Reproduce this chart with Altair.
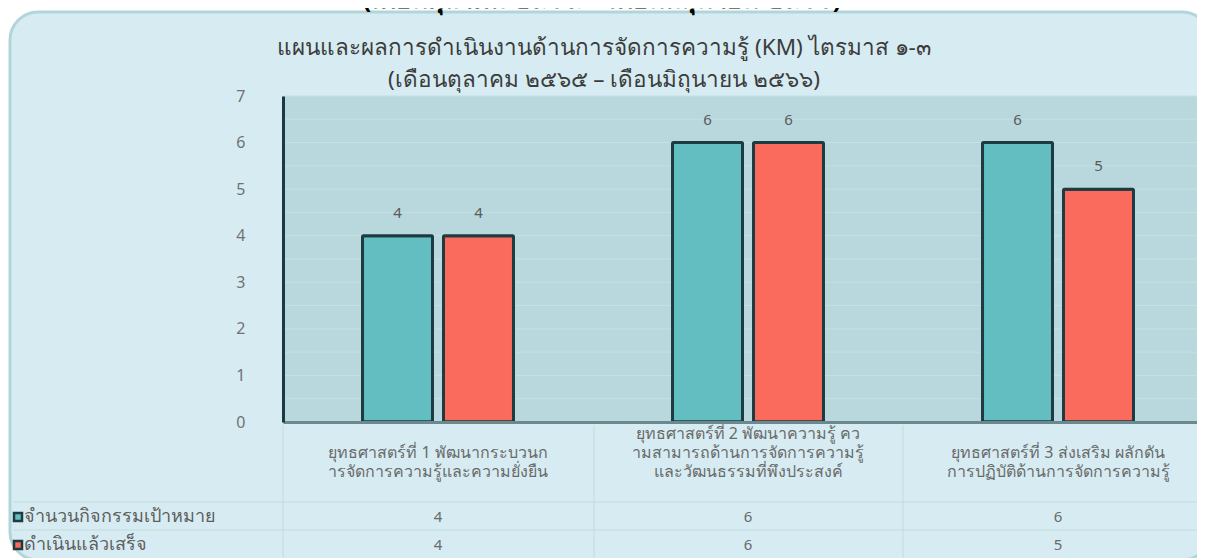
import altair as alt
import pandas as pd

# ---- data ----
categories = ["ยุทธศาสตร์ที่ 1", "ยุทธศาสตร์ที่ 2", "ยุทธศาสตร์ที่ 3"]
category_lines = [
    ["ยุทธศาสตร์ที่ 1 พัฒนากระบวนก", "ารจัดการความรู้และความยั่งยืน"],
    ["ยุทธศาสตร์ที่ 2 พัฒนาความรู้ คว", "ามสามารถด้านการจัดการความรู้", "และวัฒนธรรมที่พึงประสงค์"],
    ["ยุทธศาสตร์ที่ 3 ส่งเสริม ผลักดัน", "การปฏิบัติด้านการจัดการความรู้"],
]
series = ["จำนวนกิจกรรมเป้าหมาย", "ดำเนินแล้วเสร็จ"]
target_values = [4, 6, 6]
done_values = [4, 6, 5]
colors = ["#62bec1", "#fa6a5d"]
grid_values = [i * 0.5 for i in range(15)]
title_lines = [
    "แผนและผลการดำเนินงานด้านการจัดการความรู้ (KM) ไตรมาส ๑-๓",
    "(เดือนตุลาคม ๒๕๖๕ – เดือนมิถุนายน ๒๕๖๖)",
]
header_text = "(เดือนตุลาคม ๒๕๖๕ – เดือนมิถุนายน ๒๕๖๖)"

rows = []
for s, vals in zip(series, [target_values, done_values]):
    for c, v in zip(categories, vals):
        rows.append({"cat": c, "series": s, "value": v})
df = pd.DataFrame(rows)

FONT = "Noto Sans"
W, H = 914, 326
ROW_Y = [421, 449]
one = pd.DataFrame({"a": [0]})

x_scale = alt.Scale(domain=categories, range=[0, 930], paddingInner=0.513, paddingOuter=0.2565)
y_scale = alt.Scale(domain=[0, 7], nice=False)
color_scale = alt.Scale(domain=series, range=colors)
X = alt.X("cat:N", scale=x_scale, sort=categories,
          axis=alt.Axis(labels=False, ticks=False, title=None, domainColor="#6b8a8f",
                        domainWidth=3, grid=False, zindex=1))

# background panel
panel = alt.Chart(one).mark_rect(
    fill="#d6ecf2", stroke="#b2d5da", strokeWidth=3, cornerRadius=28
).encode(x=alt.value(-273), x2=alt.value(927), y=alt.value(-84), y2=alt.value(464))

plotbg = alt.Chart(one).mark_rect(fill="#b8d8dd").encode(
    x=alt.value(0), x2=alt.value(940), y=alt.value(0), y2=alt.value(H)
)

grid = alt.Chart(pd.DataFrame({"g": grid_values})).mark_rule(color="#c4e1e5", strokeWidth=1).encode(
    y=alt.Y("g:Q", scale=y_scale), x=alt.value(0), x2=alt.value(940)
)

# table grid lines
hline1 = alt.Chart(one).mark_rule(color="#c2dade", strokeWidth=1).encode(
    x=alt.value(-269), x2=alt.value(940), y=alt.value(406))
hline2 = alt.Chart(one).mark_rule(color="#c2dade", strokeWidth=1).encode(
    x=alt.value(-269), x2=alt.value(940), y=alt.value(434))
vl = [alt.Chart(one).mark_rule(color="#c2dade", strokeWidth=1).encode(
    x=alt.value(v), y=alt.value(329), y2=alt.value(470)) for v in (0, 311, 620)]

bars = alt.Chart(df).mark_bar(stroke="#1f3b42", strokeWidth=3, cornerRadius=1).encode(
    x=X,
    xOffset=alt.XOffset("series:N", sort=series,
                        scale=alt.Scale(paddingInner=0.136, paddingOuter=0)),
    y=alt.Y("value:Q", scale=y_scale,
            axis=alt.Axis(values=list(range(8)), title=None,
                          ticks=False, labelPadding=38, labelFontSize=16,
                          labelColor="#727272", labelFont=FONT,
                          domainColor="#1c3840", domainWidth=3,
                          grid=False, zindex=1)),
    color=alt.Color("series:N", scale=color_scale, legend=None),
)

bar_labels = alt.Chart(df).mark_text(
    dy=-23, fontSize=15, color="#5a5a5a", font=FONT, baseline="middle"
).encode(
    x=X,
    xOffset=alt.XOffset("series:N", sort=series),
    y=alt.Y("value:Q", scale=y_scale),
    text="value:Q",
)

LH = 19
cat_layers = []
for c, lines in zip(categories, category_lines):
    d = pd.DataFrame({"cat": [c], "label": ["\n".join(lines)]})
    first_y = 472 - 96 - (len(lines) - 1) * LH
    cat_layers.append(alt.Chart(d).mark_text(
        fontSize=16, color="#6a6a6a", font=FONT, baseline="middle", lineBreak="\n", lineHeight=LH
    ).encode(x=X, y=alt.value(first_y), text="label:N"))

row1 = alt.Chart(df[df.series == series[0]]).mark_text(
    fontSize=15, color="#6a6a6a", font=FONT, baseline="middle"
).encode(x=X, y=alt.value(ROW_Y[0]), text="value:Q")
row2 = alt.Chart(df[df.series == series[1]]).mark_text(
    fontSize=15, color="#6a6a6a", font=FONT, baseline="middle"
).encode(x=X, y=alt.value(ROW_Y[1]), text="value:Q")

leg = []
for i, s in enumerate(series):
    d = pd.DataFrame({"series": [s]})
    leg.append(alt.Chart(d).mark_square(size=64, stroke="#1f3b42", strokeWidth=2.5, opacity=1).encode(
        x=alt.value(-265), y=alt.value(ROW_Y[i]),
        fill=alt.Fill("series:N", scale=color_scale, legend=None)))
    leg.append(alt.Chart(d).mark_text(
        align="left", baseline="middle", fontSize=18, color="#5e5e5e", font=FONT
    ).encode(x=alt.value(-259), y=alt.value(ROW_Y[i]), text="series:N"))

title1 = alt.Chart(pd.DataFrame({"t": [title_lines[0]]})).mark_text(
    fontSize=22.5, color="#3c3c3c", font=FONT, baseline="middle"
).encode(x=alt.value(321), y=alt.value(-48), text="t:N")
title2 = alt.Chart(pd.DataFrame({"t": [title_lines[1]]})).mark_text(
    fontSize=22.5, color="#3c3c3c", font=FONT, baseline="middle"
).encode(x=alt.value(321), y=alt.value(-16), text="t:N")
header = alt.Chart(pd.DataFrame({"t": [header_text]})).mark_text(
    fontSize=25, fontWeight="bold", color="#000000", font=FONT, baseline="alphabetic"
).encode(x=alt.value(319), y=alt.value(-88), text="t:N")

chart = alt.layer(
    panel, plotbg, grid, hline1, hline2, *vl, bars, bar_labels, *cat_layers, row1, row2,
    *leg, title1, title2, header
).properties(
    width=W, height=H,
    autosize=alt.AutoSizeParams(type="none"),
    padding={"left": 275, "top": 88, "right": 0, "bottom": 136},
    background="#ffffff",
).configure_view(stroke=None, fill=None)

chart.save("out.html", embed_options={"renderer": "svg", "actions": False})
